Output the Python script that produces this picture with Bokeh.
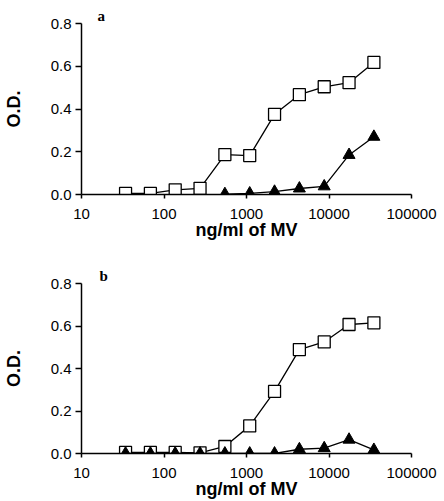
from bokeh.plotting import figure
from bokeh.models import FixedTicker, Range1d, PrintfTickFormatter
from bokeh.layouts import column
from bokeh.embed import file_html
from bokeh.resources import INLINE

nan = float("nan")

# concentrations (ng/ml of MV), two-fold dilutions
conc = [34.2, 68.4, 136.7, 273.4, 546.9, 1093.8, 2187.5, 4375, 8750, 17500, 35000]

# panel a
a_squares = [0.005, 0.005, 0.022, 0.029, 0.187, 0.182, 0.375, 0.467, 0.504, 0.523, 0.618]
a_triangles = [nan, nan, nan, nan, 0.002, 0.005, 0.013, 0.028, 0.038, 0.185, 0.27]

# panel b
b_squares = [0.005, 0.005, 0.005, 0.003, 0.033, 0.13, 0.292, 0.489, 0.525, 0.607, 0.615]
b_triangles = [0.0, 0.0, 0.0, 0.0, 0.0, 0.0, 0.0, 0.02, 0.025, 0.065, 0.017]

x_ticks = [10, 100, 1000, 10000, 100000]
x_tick_labels = ["10", "100", "1000", "10000", "100000"]
y_ticks = [0.0, 0.2, 0.4, 0.6, 0.8]

x_title = "ng/ml of MV"
y_title = "O.D."

SANS = "Liberation Sans"


def make_panel(letter, letter_offset, squares, triangles, height, border_top, border_bottom):
    p = figure(width=444, height=height, x_axis_type="log",
               x_range=Range1d(10, 100000), y_range=Range1d(0, 0.8),
               output_backend="svg", toolbar_location=None,
               min_border_left=80, min_border_right=33,
               min_border_top=border_top, min_border_bottom=border_bottom)
    p.grid.visible = False
    p.outline_line_color = None

    p.title.text = letter
    p.title.align = "left"
    p.title.offset = letter_offset
    p.title.standoff = 0
    p.title.text_font = "Liberation Serif"
    p.title.text_font_style = "bold"
    p.title.text_font_size = "15px"
    p.title.text_color = "black"

    p.line(conc, squares, line_color="black", line_width=1.3)
    p.scatter(conc, squares, marker="square", size=12, fill_color="white",
              line_color="black", line_width=1.3)
    p.line(conc, triangles, line_color="black", line_width=1.3)
    p.scatter(conc, triangles, marker="triangle", size=12, fill_color="black",
              line_color="black", line_width=1)

    xa = p.xaxis[0]
    xa.ticker = FixedTicker(ticks=x_ticks)
    xa.formatter = PrintfTickFormatter(format="%d")
    xa.major_label_overrides = {t: l for t, l in zip(x_ticks, x_tick_labels)}
    xa.major_tick_out = 4
    xa.major_tick_in = 0
    xa.major_label_standoff = 10
    xa.axis_label = x_title
    xa.axis_label_standoff = -2

    ya = p.yaxis[0]
    ya.ticker = FixedTicker(ticks=y_ticks)
    ya.formatter = PrintfTickFormatter(format="%.1f")
    ya.major_tick_out = 6
    ya.major_tick_in = 0
    ya.major_label_standoff = 4
    ya.axis_label = y_title
    ya.axis_label_standoff = 24

    for ax in (xa, ya):
        ax.minor_tick_line_color = None
        ax.axis_line_width = 1.5
        ax.axis_line_color = "black"
        ax.major_tick_line_width = 1.5
        ax.major_tick_line_color = "black"
        ax.major_label_text_font = SANS
        ax.major_label_text_font_size = "15px"
        ax.major_label_text_color = "black"
        ax.axis_label_text_font = SANS
        ax.axis_label_text_font_size = "18px"
        ax.axis_label_text_font_style = "bold"
        ax.axis_label_text_color = "black"
    return p


pa = make_panel("a", 16, a_squares, a_triangles, 259, 23, 65)
pb = make_panel("b", 18, b_squares, b_triangles, 242, 24, 47)

layout = column(pa, pb, spacing=0)
open("out.html", "w").write(file_html(layout, INLINE))
